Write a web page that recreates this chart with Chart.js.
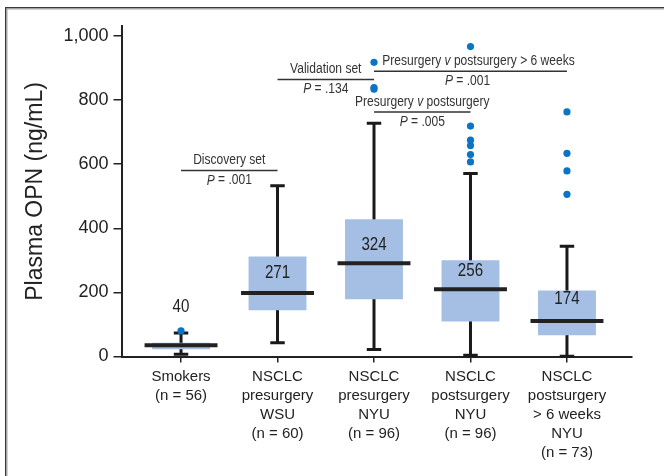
<!DOCTYPE html>
<html>
<head>
<meta charset="utf-8">
<script src="https://cdn.jsdelivr.net/npm/chart.js@4.4.0/dist/chart.umd.min.js"></script>
<style>
  html, body { margin: 0; padding: 0; background: #fff; }
</style>
</head>
<body>
<canvas id="myChart" width="664" height="476"></canvas>
<script>
// groups on the x axis
const groups = [
    ['Smokers', '(n = 56)'],
    ['NSCLC', 'presurgery', 'WSU', '(n = 60)'],
    ['NSCLC', 'presurgery', 'NYU', '(n = 96)'],
    ['NSCLC', 'postsurgery', 'NYU', '(n = 96)'],
    ['NSCLC', 'postsurgery', '> 6 weeks', 'NYU', '(n = 73)']
];

// box plot values (ng/mL)
const whiskerLow = [7, 43, 22, 4, 1];
const q1 = [23, 144, 179, 109, 66];
const median = [35, 198, 291, 210, 111];
const q3 = [43, 312, 428, 300, 206];
const whiskerHigh = [73, 533, 728, 571, 344];
const means = [40, 271, 324, 256, 174];
const outliers = [
    [80],
    [],
    [918, 839, 834],
    [967, 719, 675, 658, 630, 607],
    [763, 634, 579, 506]
];
const yTicks = [0, 200, 400, 600, 800, 1000];

// comparisons between groups
const comparisons = [
    { from: 0, to: 1, title: [['Discovery set', false]], p: '.001' },
    { from: 1, to: 2, title: [['Validation set', false]], p: '.134' },
    { from: 2, to: 4, title: [['Presurgery ', false], ['v', true], [' postsurgery > 6 weeks', false]], p: '.001' },
    { from: 2, to: 3, title: [['Presurgery ', false], ['v', true], [' postsurgery', false]], p: '.005' }
];

// where the annotations sit (value units)
const bracketLevel = [580, 864, 890, 763];
const bracketTextShift = [[0, 0], [0, 0], [8, -3], [0, 0]];
const meanLabelAt = [155, 260, 347, 268, 179];

const FONT = "'Liberation Sans', Arial, Helvetica, sans-serif";

// text squeezed sideways, the figure uses a condensed face
function drawRich(ctx, parts, cx, cy, size, squeeze) {
    const fontOf = (it) => (it ? 'italic ' : '') + size + 'px ' + FONT;
    let total = 0;
    parts.forEach(([t, it]) => { ctx.font = fontOf(it); total += ctx.measureText(t).width; });
    ctx.save();
    ctx.translate(cx, cy);
    ctx.scale(squeeze, 1);
    let x = -total / 2;
    ctx.textAlign = 'left';
    ctx.textBaseline = 'middle';
    parts.forEach(([t, it]) => {
        ctx.font = fontOf(it);
        ctx.fillText(t, x, 0);
        x += ctx.measureText(t).width;
    });
    ctx.restore();
}

const boxDetails = {
    id: 'boxDetails',
    beforeDraw(chart) {
        const ctx = chart.ctx;
        ctx.save();
        ctx.fillStyle = '#3a3a3a';
        ctx.fillRect(5, 7, 1.5, 469);
        ctx.fillRect(5, 7, 659, 1.5);
        ctx.fillStyle = '#a8a8a8';
        ctx.fillRect(6.5, 8.5, 1, 468);
        ctx.fillRect(6.5, 8.5, 658, 1);
        ctx.restore();
    },
    beforeDatasetsDraw(chart) {
        const { ctx, scales: { x, y } } = chart;
        const unit = x.getPixelForValue(1) - x.getPixelForValue(0);
        const capHalf = unit * 0.075;
        ctx.save();
        ctx.strokeStyle = '#1a1a1a';
        ctx.lineWidth = 3;
        groups.forEach((g, i) => {
            const cx = x.getPixelForValue(i);
            const lo = y.getPixelForValue(whiskerLow[i]);
            const hi = y.getPixelForValue(whiskerHigh[i]);
            ctx.beginPath();
            ctx.moveTo(cx, hi);
            ctx.lineTo(cx, lo);
            ctx.moveTo(cx - capHalf, hi);
            ctx.lineTo(cx + capHalf, hi);
            ctx.moveTo(cx - capHalf, lo);
            ctx.lineTo(cx + capHalf, lo);
            ctx.stroke();
        });
        ctx.restore();
    },
    afterDatasetsDraw(chart) {
        const { ctx, scales: { x, y } } = chart;
        const unit = x.getPixelForValue(1) - x.getPixelForValue(0);
        const medHalf = unit * 0.378;
        ctx.save();
        // medians
        ctx.strokeStyle = '#222';
        ctx.lineWidth = 4;
        groups.forEach((g, i) => {
            const cx = x.getPixelForValue(i);
            const my = y.getPixelForValue(median[i]);
            ctx.beginPath();
            ctx.moveTo(cx - medHalf, my);
            ctx.lineTo(cx + medHalf, my);
            ctx.stroke();
        });
        // mean labels
        ctx.fillStyle = '#222';
        means.forEach((m, i) => {
            drawRich(ctx, [[String(m), false]], x.getPixelForValue(i), y.getPixelForValue(meanLabelAt[i]), 18, 0.84);
        });
        // comparison brackets
        ctx.strokeStyle = '#333';
        ctx.fillStyle = '#333';
        ctx.lineWidth = 1.5;
        comparisons.forEach((c, k) => {
            const x0 = x.getPixelForValue(c.from);
            const x1 = x.getPixelForValue(c.to);
            const ly = y.getPixelForValue(bracketLevel[k]);
            ctx.beginPath();
            ctx.moveTo(x0, ly);
            ctx.lineTo(x1, ly);
            ctx.stroke();
            const mid = (x0 + x1) / 2;
            const [dt, dp] = bracketTextShift[k];
            drawRich(ctx, c.title, mid + dt, ly - 10, 14, 0.86);
            drawRich(ctx, [['P', true], [' = ' + c.p, false]], mid + dp, ly + 10, 14, 0.86);
        });
        ctx.restore();
    }
};

const ctx = document.getElementById('myChart').getContext('2d');

new Chart(ctx, {
    type: 'bar',
    data: {
        datasets: [
            {
                type: 'scatter',
                data: outliers.flatMap((arr, i) => arr.map(v => ({ x: i, y: v }))),
                backgroundColor: '#0b74c4',
                borderWidth: 0,
                pointRadius: 3.6,
                order: 1
            },
            {
                type: 'bar',
                data: q1.map((v, i) => ({ x: i, y: [v, q3[i]] })),
                backgroundColor: '#a4bfe3',
                borderWidth: 0,
                barPercentage: 0.6,
                categoryPercentage: 1,
                order: 2
            }
        ]
    },
    options: {
        responsive: false,
        animation: false,
        layout: { padding: { top: 26.4, right: 32, left: 0, bottom: 0 } },
        plugins: { legend: { display: false }, tooltip: { enabled: false } },
        scales: {
            x: {
                type: 'linear',
                offset: false,
                min: -0.617,
                max: 4.674,
                afterBuildTicks: (axis) => { axis.ticks = groups.map((g, i) => ({ value: i })); },
                afterFit: (s) => { s.height = 119.5; },
                ticks: {
                    callback: (v) => groups[v],
                    font: { family: FONT, size: 15, lineHeight: 1.27 },
                    color: '#222',
                    padding: 5,
                    maxRotation: 0,
                    autoSkip: false
                },
                grid: { offset: false, drawOnChartArea: false, tickLength: 6, color: '#222', lineWidth: 1.5 },
                border: { color: '#222', width: 2 }
            },
            y: {
                type: 'linear',
                min: 0,
                max: 1030,
                afterBuildTicks: (axis) => { axis.ticks = yTicks.map(v => ({ value: v })); },
                afterFit: (s) => { s.width = 121.5; },
                ticks: {
                    callback: (v) => v.toLocaleString('en-US'),
                    font: { family: FONT, size: 18 },
                    color: '#222',
                    padding: 5
                },
                grid: { drawOnChartArea: false, tickLength: 8, color: '#222', lineWidth: 1.5 },
                border: { color: '#222', width: 2 },
                title: {
                    display: true,
                    text: 'Plasma OPN (ng/mL)',
                    font: { family: FONT, size: 23 },
                    color: '#222',
                    padding: { top: 22, bottom: 0 }
                }
            }
        }
    },
    plugins: [boxDetails]
});
</script>
</body>
</html>
